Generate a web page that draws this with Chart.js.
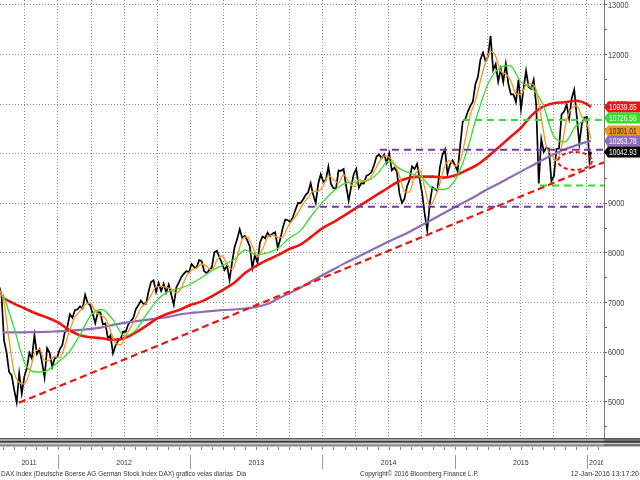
<!DOCTYPE html>
<html>
<head>
<meta charset="utf-8">
<script src="https://cdn.jsdelivr.net/npm/chart.js@4.4.1/dist/chart.umd.min.js"></script>
<style>
  html, body { margin: 0; padding: 0; background: #fff; }
</style>
</head>
<body>
<canvas id="dax" width="640" height="480"></canvas>
<script>
// weekly closes (Fridays), first week = 22 Jul 2011
const close2011 = [7344, 7158, 6236, 5997, 5602, 5538, 5246, 4990, 5574, 5164, 5502, 5675, 5987, 5871, 6346, 5966, 6057, 5800, 5492, 6080, 5986, 5702, 5878, 5898];
const close2012 = [6057, 6143, 6404, 6512, 6766, 6692, 6849, 6864, 6922, 6880, 7157, 6996, 6947, 6775, 6583, 6801, 6801, 6561, 6580, 6271, 6340, 5978, 6130, 6229, 6263, 6416, 6410, 6557, 6630, 6689, 6865, 6945, 7040, 6971, 6970, 7214, 7412, 7451, 7216, 7398, 7233, 7380, 7204, 7363, 7163, 6950, 7309, 7405, 7518, 7585, 7636, 7612];
const close2013 = [7776, 7715, 7702, 7860, 7833, 7633, 7593, 7661, 7708, 8013, 8043, 7913, 7795, 7658, 7744, 7459, 7814, 8122, 8279, 8480, 8305, 8348, 8254, 8127, 7700, 7959, 7806, 8212, 8331, 8299, 8410, 8338, 8392, 8416, 8103, 8275, 8509, 8675, 8661, 8623, 8725, 8870, 9010, 9006, 9078, 9168, 9225, 9405, 9172, 9006, 9400, 9589];
const close2014 = [9435, 9473, 9742, 9392, 9306, 9301, 9662, 9657, 9692, 9350, 9056, 9342, 9588, 9695, 9315, 9409, 9401, 9556, 9581, 9630, 9769, 9943, 9987, 9912, 9987, 9816, 10009, 9666, 9720, 9644, 9210, 9010, 9092, 9339, 9470, 9747, 9691, 9799, 9490, 9195, 8788, 8450, 8988, 9326, 9291, 9252, 9732, 9980, 10087, 9594, 9787, 9865];
const close2015 = [9764, 9648, 10168, 10649, 10694, 10846, 10963, 11051, 11402, 11551, 11901, 12040, 11868, 11967, 12375, 11689, 11811, 11454, 11710, 11447, 11815, 11413, 11197, 11196, 11041, 11492, 10900, 11316, 11673, 11347, 11309, 11490, 10985, 9400, 10298, 10038, 10123, 10104, 9450, 9553, 10096, 10104, 10795, 10850, 10988, 10708, 11119, 11293, 10752, 10200, 10608, 10728, 10743, 9849];

// orange average, read every second week from the first week
const orangeLine = [7300, 6990, 6248, 5596, 5387, 5358, 5582, 5970, 6060, 5829, 5840, 5912, 5884, 6126, 6456, 6705, 6832, 6956, 6995, 6825, 6740, 6686, 6438, 6180, 6150, 6330, 6503, 6685, 6885, 6982, 7142, 7323, 7325, 7304, 7278, 7196, 7296, 7536, 7652, 7701, 7778, 7730, 7649, 7856, 7941, 7778, 7669, 7919, 8276, 8327, 8130, 7921, 8077, 8313, 8360, 8312, 8326, 8530, 8671, 8807, 8991, 9119, 9243, 9246, 9358, 9560, 9478, 9415, 9578, 9439, 9334, 9485, 9455, 9487, 9634, 9832, 9957, 9931, 9803, 9560, 9239, 9228, 9562, 9682, 9318, 8955, 9114, 9400, 9763, 9862, 9753, 9861, 10290, 10788, 11066, 11476, 11840, 12063, 11961, 11666, 11607, 11468, 11212, 11197, 11385, 11411, 11283, 10724, 10146, 9988, 9860, 10137, 10684, 10916, 10968, 10748, 10605];

// slower averages, read at each month start from Aug 2011 to Jan 2016
const greenLine = [7180, 6500, 5770, 5600, 5630,
  5800, 6000, 6350, 6750, 6860, 6650, 6330, 6430, 6750, 7050, 7220, 7280,
  7370, 7500, 7650, 7760, 7870, 8060, 7960, 8000, 8100, 8300, 8450, 8750,
  9020, 9250, 9400, 9430, 9450, 9600, 9850, 9700, 9600, 9520, 9300, 9280,
  9460, 9980, 10750, 11400, 11720, 11780, 11450, 11320, 11000, 10350, 10240, 10560,
  10690];
const redLine = [7090, 6980, 6880, 6780, 6700,
  6600, 6450, 6340, 6300, 6280, 6250, 6280, 6390, 6530, 6680, 6780, 6850,
  6950, 7020, 7130, 7260, 7400, 7600, 7740, 7860, 7960, 8080, 8170, 8330,
  8500, 8620, 8760, 8900, 9040, 9180, 9320, 9450, 9520, 9540, 9540, 9520,
  9560, 9660, 9770, 9940, 10130, 10330, 10520, 10780, 10950, 11020, 11040, 11070,
  11000];
const purpleLine = [6400, 6400, 6400, 6405, 6410,
  6420, 6430, 6450, 6470, 6500, 6550, 6590, 6620, 6650, 6680, 6710, 6760,
  6790, 6810, 6830, 6850, 6860, 6880, 6910, 6970, 7080, 7190, 7300, 7430,
  7550, 7670, 7790, 7900, 8010, 8120, 8230, 8330, 8440, 8560, 8680, 8800,
  8920, 9040, 9160, 9290, 9400, 9520, 9640, 9760, 9880, 9990, 10090, 10170,
  10240];

// last values on 12 Jan 2016 (boxes on the right)
const lastDate = 2016 + 11 / 365;
const lastPrice = 10042.93;
const lastOrange = 10301.01;
const lastGreen = 10726.56;
const lastRed = 10939.85;
const lastPurple = 10263.78;

// drawn levels
const trendStart = [2011.705, 4980];
const trendEnd = [2016.129, 9830];
const purpleLevels = [[2014.435, 10080], [2013.89, 8930]];
const greenLevels = [[2015.062, 10680], [2015.645, 9360]];
const ellipseCenter = [2015.909, 9855];
const ellipseRadius = [0.1285, 180];

const yearLabels = ['2011', '2012', '2013', '2014', '2015', '2016'];

const X_MIN = 2011.5614, X_MAX = 2016.129;
const Y_MIN = 4290, Y_MAX = 13100;
const FIRST_WEEK = 2011 + 202 / 365;

const RED = '#e8170f', GREEN = '#2fe02f', ORANGE = '#f7961e', PURPLE = '#8c6cb8', DPURPLE = '#7538a8';
const FONT = "'Liberation Sans', Arial, sans-serif";

// build point lists
const weeklyClose = [...close2011, ...close2012, ...close2013, ...close2014, ...close2015];
const pricePoints = weeklyClose.map((v, i) => ({ x: FIRST_WEEK + i * 7 / 365.25, y: v }));
pricePoints.push({ x: lastDate, y: lastPrice });

const orangePoints = orangeLine.map((v, i) => ({ x: FIRST_WEEK + i * 14 / 365.25, y: v }));
orangePoints.push({ x: lastDate, y: lastOrange });

const monthly = (arr, last) => {
    const pts = arr.map((v, k) => ({ x: 2011 + (7 + k) / 12, y: v }));
    pts.push({ x: lastDate, y: last });
    return pts;
};

const level = (l) => [{ x: l[0], y: l[1] }, { x: X_MAX, y: l[1] }];

const quarterTicks = [];
const monthTicks = [];
for (let yr = 2011; yr <= 2016; yr++) {
    for (let m = 0; m < 12; m++) {
        const t = yr + m / 12;
        if (t <= X_MIN || t >= X_MAX) continue;
        monthTicks.push(t);
        if (m % 3 === 0) quarterTicks.push(t);
    }
}

const lineSet = (label, data, color, width, order, extra) => Object.assign({
    label, data, borderColor: color, borderWidth: width, pointRadius: 0,
    fill: false, order
}, extra || {});

const dashed = { borderDash: [7, 5] };

const datasets = [
    lineSet('trend', [{ x: trendStart[0], y: trendStart[1] }, { x: trendEnd[0], y: trendEnd[1] }], RED, 2.2, 0, { borderDash: [7, 4] }),
    lineSet('p1', level(purpleLevels[0]), DPURPLE, 2, 0, dashed),
    lineSet('p2', level(purpleLevels[1]), DPURPLE, 2, 0, dashed),
    lineSet('g1', level(greenLevels[0]), GREEN, 2, 0, dashed),
    lineSet('g2', level(greenLevels[1]), GREEN, 2, 0, dashed),
    lineSet('orange', orangePoints, ORANGE, 1.3, 1, { cubicInterpolationMode: 'monotone' }),
    lineSet('green', monthly(greenLine, lastGreen), GREEN, 1.3, 2, { cubicInterpolationMode: 'monotone' }),
    lineSet('red', monthly(redLine, lastRed), RED, 2.6, 3, { cubicInterpolationMode: 'monotone' }),
    lineSet('purple', monthly(purpleLine, lastPurple), PURPLE, 2.2, 4, { cubicInterpolationMode: 'monotone' }),
    lineSet('price', pricePoints, '#000', 1.7, 5)
];

const valueBoxes = [
    { value: lastRed, color: RED, text: '#fff', nudge: 0 },
    { value: lastGreen, color: GREEN, text: '#fff', nudge: 0 },
    { value: lastOrange, color: ORANGE, text: '#222', nudge: -8 },
    { value: lastPurple, color: PURPLE, text: '#fff', nudge: 0 },
    { value: lastPrice, color: '#000', text: '#fff', nudge: 0 }
];

// text squeezed sideways, the chart font is narrow
function narrowText(ctx, text, x, y, sx) {
    ctx.save();
    ctx.translate(x, y);
    ctx.scale(sx, 1);
    ctx.fillText(text, 0, 0);
    ctx.restore();
}

const decorations = {
    id: 'decorations',
    afterDatasetsDraw(chart) {
        const { ctx, scales: { x, y } } = chart;
        const cx = x.getPixelForValue(ellipseCenter[0]);
        const cy = y.getPixelForValue(ellipseCenter[1]);
        const rx = x.getPixelForValue(ellipseCenter[0] + ellipseRadius[0]) - cx;
        const ry = cy - y.getPixelForValue(ellipseCenter[1] + ellipseRadius[1]);
        ctx.save();
        ctx.beginPath();
        ctx.ellipse(cx, cy, rx, ry, 0, 0, Math.PI * 2);
        ctx.setLineDash([4, 3]);
        ctx.lineWidth = 2;
        ctx.strokeStyle = RED;
        ctx.stroke();
        ctx.restore();
    },
    afterDraw(chart) {
        const { ctx, chartArea: area, scales: { x, y } } = chart;
        const W = chart.width;
        ctx.save();

        // axis numbers
        ctx.font = '9px ' + FONT;
        ctx.fillStyle = '#444';
        ctx.textAlign = 'left';
        ctx.textBaseline = 'middle';
        y.ticks.forEach(t => {
            if (t.value % 1000 !== 0) return;
            narrowText(ctx, String(t.value), area.right + 4, y.getPixelForValue(t.value) + 0.5, 0.82);
        });

        // scroll strip under the plot
        const top = area.bottom + 1;
        ctx.fillStyle = '#a4a4a4';
        ctx.fillRect(0, top, W, 8);
        ctx.fillStyle = '#707070';
        ctx.fillRect(area.right, top, W - area.right, 8);
        ctx.fillStyle = '#5a5a5a';
        ctx.fillRect(0, top, W, 1);
        ctx.fillStyle = '#3c3c3c';
        ctx.fillRect(0, top + 3, W, 1.5);
        ctx.fillStyle = '#d0d0d0';
        ctx.fillRect(0, top + 5, W, 1);
        ctx.fillStyle = '#7a7a7a';
        ctx.fillRect(0, top + 7.5, W, 1);

        // month ticks
        ctx.strokeStyle = '#8a8a8a';
        ctx.lineWidth = 1;
        ctx.beginPath();
        monthTicks.forEach(t => {
            const px = Math.round(x.getPixelForValue(t)) + 0.5;
            ctx.moveTo(px, top + 9);
            ctx.lineTo(px, top + 12);
        });
        ctx.stroke();

        // year separators and labels
        ctx.beginPath();
        yearLabels.forEach(label => {
            const yr = Number(label);
            if (yr > X_MIN) {
                const px = Math.round(x.getPixelForValue(yr)) + 0.5;
                ctx.moveTo(px, 455);
                ctx.lineTo(px, 469);
            }
        });
        ctx.strokeStyle = '#9a9a9a';
        ctx.stroke();
        ctx.font = '8px ' + FONT;
        ctx.fillStyle = '#333';
        ctx.textAlign = 'center';
        ctx.save();
        ctx.beginPath();
        ctx.rect(0, 450, area.right - 1, 30);
        ctx.clip();
        yearLabels.forEach(label => {
            const yr = Number(label);
            const a = x.getPixelForValue(Math.max(yr, X_MIN));
            const b = x.getPixelForValue(Math.min(yr + 1, X_MAX));
            const cxl = yr === 2016 ? a + 10 : (a + b) / 2;
            narrowText(ctx, label, cxl, 463, 0.88);
        });
        ctx.restore();

        // footer
        ctx.font = '7.5px ' + FONT;
        ctx.textAlign = 'left';
        narrowText(ctx, 'DAX Index (Deutsche Boerse AG German Stock Index DAX) grafico velas diarias  Dia', 1, 474, 0.86);
        narrowText(ctx, 'Copyright\u00a9 2016 Bloomberg Finance L.P.', 360, 474, 0.86);
        ctx.textAlign = 'right';
        narrowText(ctx, '12-Jan-2016 13:17:20', 639, 474, 0.93);

        // last value boxes on the axis
        ctx.font = '9px ' + FONT;
        ctx.textAlign = 'left';
        valueBoxes.forEach(b => {
            const yc = Math.round(y.getPixelForValue(b.value)) + b.nudge;
            ctx.beginPath();
            ctx.moveTo(area.right, yc);
            ctx.lineTo(area.right + 4, yc - 5.5);
            ctx.lineTo(W, yc - 5.5);
            ctx.lineTo(W, yc + 5.5);
            ctx.lineTo(area.right + 4, yc + 5.5);
            ctx.closePath();
            ctx.fillStyle = b.color;
            ctx.fill();
            ctx.fillStyle = b.text;
            narrowText(ctx, b.value.toFixed(2), area.right + 5, yc + 0.5, 0.74);
        });
        ctx.restore();
    }
};

Chart.defaults.font.family = FONT;
Chart.defaults.font.size = 9;
Chart.defaults.color = '#444';

new Chart(document.getElementById('dax'), {
    type: 'line',
    data: { datasets },
    options: {
        responsive: false,
        animation: false,
        devicePixelRatio: 1,
        layout: { padding: 0 },
        plugins: { legend: { display: false }, tooltip: { enabled: false } },
        scales: {
            x: {
                type: 'linear',
                min: X_MIN,
                max: X_MAX,
                afterBuildTicks: s => { s.ticks = quarterTicks.map(v => ({ value: v })); },
                afterFit: s => { s.height = 43; },
                ticks: { display: false },
                grid: { color: '#8e8e8e', drawTicks: false, lineWidth: 1 },
                border: { display: false, dash: [1, 2] }
            },
            y: {
                position: 'right',
                min: Y_MIN,
                max: Y_MAX,
                afterBuildTicks: s => {
                    const t = [];
                    for (let v = 4500; v <= 13000; v += 500) t.push({ value: v });
                    s.ticks = t;
                },
                afterFit: s => { s.width = 36; s.paddingTop = 0; s.paddingBottom = 0; },
                ticks: { display: false },
                grid: {
                    color: c => (c.tick && c.tick.value % 1000 === 0 ? '#8e8e8e' : 'rgba(0,0,0,0)'),
                    tickColor: '#666',
                    tickLength: 3,
                    lineWidth: 1
                },
                border: { display: true, color: '#777', width: 1, dash: [1, 2] }
            }
        }
    },
    plugins: [decorations]
});
</script>
</body>
</html>
